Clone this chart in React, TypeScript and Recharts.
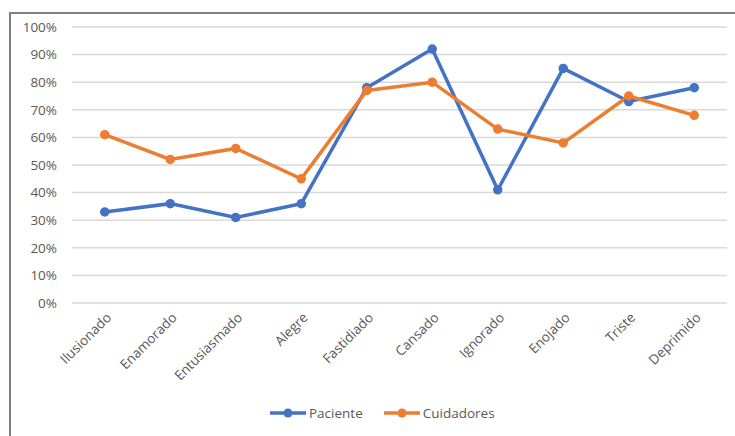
import { LineChart, Line, XAxis, YAxis, CartesianGrid } from "recharts"

const categories = [
  "Ilusionado",
  "Enamorado",
  "Entusiasmado",
  "Alegre",
  "Fastidiado",
  "Cansado",
  "Ignorado",
  "Enojado",
  "Triste",
  "Deprimido",
]
const paciente = [33, 36, 31, 36, 78, 92, 41, 85, 73, 78]
const cuidadores = [61, 52, 56, 45, 77, 80, 63, 58, 75, 68]
const yTicks = [0, 10, 20, 30, 40, 50, 60, 70, 80, 90, 100]

const SERIES = [
  { key: "Paciente", values: paciente, color: "#4472C4" },
  { key: "Cuidadores", values: cuidadores, color: "#ED7D31" },
]

const FONT = "'Open Sans', sans-serif"
const TEXT = "#595959"

const data = categories.map((name, i) => {
  const row: Record<string, string | number> = { name }
  SERIES.forEach((s) => {
    row[s.key] = s.values[i]
  })
  return row
})

function CategoryTick(props: any) {
  const { x, y, payload } = props
  return (
    <g transform={`translate(${x + 4},${y + 4})`}>
      <text
        textAnchor="end"
        dy="0.355em"
        transform="rotate(-45)"
        fill={TEXT}
        fontSize={13.5}
        fontFamily={FONT}
      >
        {payload.value}
      </text>
    </g>
  )
}

export default function App() {
  return (
    <div
      style={{
        position: "absolute",
        left: 0,
        top: 0,
        width: 735,
        height: 436,
        background: "#fff",
        overflow: "hidden",
      }}
    >
      <div style={{ position: "absolute", left: 9, top: 12, width: 726, height: 2, background: "#7f7f7f" }} />
      <div style={{ position: "absolute", left: 9, top: 12, width: 2, height: 424, background: "#7f7f7f" }} />
      <div style={{ position: "absolute", left: 0, top: 0 }}>
        <LineChart width={735} height={436} data={data} margin={{ top: 27, right: 8, left: 0, bottom: 73 }}>
          <CartesianGrid vertical={false} stroke="#d9d9d9" strokeWidth={1.5} />
          <XAxis
            dataKey="name"
            interval={0}
            height={60}
            axisLine={false}
            tickLine={false}
            padding={{ left: 32.75, right: 32.75 }}
            tick={<CategoryTick />}
          />
          <YAxis
            width={72}
            domain={[0, 100]}
            ticks={yTicks}
            axisLine={false}
            tickLine={false}
            tickMargin={9}
            tickFormatter={(v) => `${v}%`}
            tick={{ fill: TEXT, fontSize: 13.5, fontFamily: FONT }}
          />
          {SERIES.map((s) => (
            <Line
              key={s.key}
              type="linear"
              dataKey={s.key}
              stroke={s.color}
              strokeWidth={3.5}
              dot={{ r: 4, fill: s.color, stroke: s.color, strokeWidth: 1.5 }}
              activeDot={false}
              isAnimationActive={false}
            />
          ))}
        </LineChart>
      </div>
      <div
        style={{
          position: "absolute",
          left: 270,
          top: 404,
          display: "flex",
          alignItems: "center",
          fontFamily: FONT,
          fontSize: 13.5,
          color: TEXT,
        }}
      >
        {SERIES.map((s, i) => (
          <div key={s.key} style={{ display: "flex", alignItems: "center", marginLeft: i ? 21 : 0 }}>
            <svg width={36} height={12}>
              <line x1={0} y1={6} x2={36} y2={6} stroke={s.color} strokeWidth={3.5} />
              <circle cx={18} cy={6} r={4.5} fill={s.color} />
            </svg>
            <span style={{ marginLeft: 3 }}>{s.key}</span>
          </div>
        ))}
      </div>
    </div>
  )
}
